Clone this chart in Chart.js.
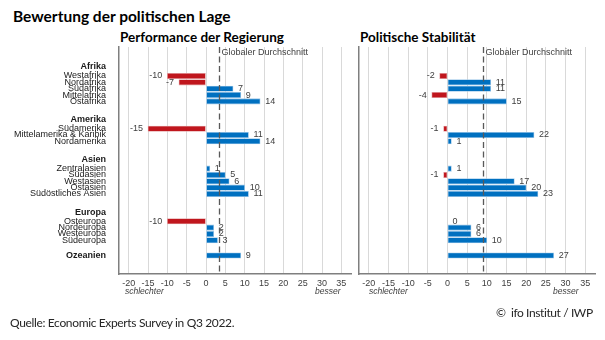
<!DOCTYPE html>
<html lang="de">
<head>
<meta charset="utf-8">
<title>Bewertung der politischen Lage</title>
<script src="https://cdn.jsdelivr.net/npm/chart.js@4.4.1/dist/chart.umd.min.js"></script>
<style>
  html, body { margin: 0; padding: 0; background: #fff; }
  body { width: 605px; height: 340px; position: relative; overflow: hidden; font-family: Lato, "Liberation Sans", sans-serif; color: #1a1a1a; }
  canvas { position: absolute; top: 0; }
  .txt { position: absolute; white-space: nowrap; line-height: 1; }
  #title { left: 13px; top: 9px; font-size: 15.5px; font-weight: 700; color: #000; }
  .sub { top: 31px; font-size: 13.5px; font-weight: 700; color: #000; }
  #source { left: 10px; top: 317px; font-size: 12px; letter-spacing: -0.35px; color: #262626; }
  #copy { left: 496px; top: 307px; font-size: 12px; letter-spacing: -0.4px; color: #262626; }
  .dir { top: 287px; font-size: 8.5px; font-style: italic; color: #404040; font-family: "Liberation Sans", sans-serif; }
</style>
</head>
<body>
<div id="title" class="txt">Bewertung der politischen Lage</div>
<div class="txt sub" style="left:120px">Performance der Regierung</div>
<div class="txt sub" style="left:360px">Politische Stabilität</div>
<canvas id="perf" width="355" height="340" style="left:0"></canvas>
<canvas id="stab" width="250" height="340" style="left:355px"></canvas>
<div class="txt dir" style="left:125px">schlechter</div>
<div class="txt dir" style="left:315px">besser</div>
<div class="txt dir" style="left:369px">schlechter</div>
<div class="txt dir" style="left:553px">besser</div>
<div id="source" class="txt">Quelle: Economic Experts Survey in Q3 2022.</div>
<div id="copy" class="txt">©&nbsp; ifo Institut / IWP</div>

<script>
// Regions and their sub-regions (Ozeanien has no sub-regions, its value sits on the region row)
const regions = ['Afrika', 'Amerika', 'Asien', 'Europa', 'Ozeanien'];
const subregions = [
  ['Westafrika', 'Nordafrika', 'Südafrika', 'Mittelafrika', 'Ostafrika'],
  ['Südamerika', 'Mittelamerika & Karibik', 'Nordamerika'],
  ['Zentralasien', 'Südasien', 'Westasien', 'Ostasien', 'Südöstliches Asien'],
  ['Osteuropa', 'Nordeuropa', 'Westeuropa', 'Südeuropa'],
  []
];

// Saldo values, one per row in the order above (last value = Ozeanien)
const performance = [-10, -7, 7, 9, 14, -15, 11, 14, 1, 5, 6, 10, 11, -10, 2, 2, 3, 9];
const stability   = [-2, 11, 11, -4, 15, -1, 22, 1, 1, -1, 17, 20, 23, 0, 6, 6, 10, 27];

// Global average per panel
const globalAverage = [3.4, 9.1];

// x-axis tick values
const xTickValues = [-20, -15, -10, -5, 0, 5, 10, 15, 20, 25, 30, 35];

// ---- row layout on a linear y scale ----
const HEADER_OFFSET = 1.45; // region label above its first sub-region
const GROUP_GAP = 4.3;      // distance between last item of a group and first item of the next
const SOLO_GAP = 2.4;       // distance before a region without sub-regions

const rowPos = [];          // y value of each bar row
const yTicks = [];          // {value, label, bold}
let cursor = 0;
regions.forEach((reg, g) => {
  const items = subregions[g];
  if (items.length) {
    if (g > 0) cursor += GROUP_GAP;
    yTicks.push({ value: cursor - HEADER_OFFSET, label: reg, bold: true });
    items.forEach((name, i) => {
      const v = cursor + i;
      rowPos.push(v);
      yTicks.push({ value: v, label: name, bold: false });
    });
    cursor += items.length - 1;
  } else {
    cursor += SOLO_GAP;
    rowPos.push(cursor);
    yTicks.push({ value: cursor, label: reg, bold: true });
  }
});

const RED = '#C0161D';
const BLUE = '#0070C0';
const LABEL_FONT = '"Liberation Sans", Arial, sans-serif';

// dashed average line + caption, and value labels at bar ends
const overlayPlugin = {
  id: 'overlay',
  afterDatasetsDraw(chart, args, opts) {
    const { ctx, chartArea, scales } = chart;
    ctx.save();
    // value labels
    const meta = chart.getDatasetMeta(0);
    const data = chart.data.datasets[0].data;
    ctx.font = '9px ' + LABEL_FONT;
    ctx.fillStyle = '#404040';
    ctx.textBaseline = 'middle';
    meta.data.forEach((bar, i) => {
      const v = data[i].x;
      if (v < 0) {
        ctx.textAlign = 'right';
        ctx.fillText(String(v), bar.x - 5, bar.y);
      } else {
        ctx.textAlign = 'left';
        ctx.fillText(String(v), bar.x + 5, bar.y);
      }
    });
    // dashed global average line
    const x = Math.round(scales.x.getPixelForValue(opts.average)) + 0.5;
    ctx.strokeStyle = '#595959';
    ctx.lineWidth = 1.3;
    ctx.setLineDash([6, 3.5]);
    ctx.beginPath();
    ctx.moveTo(x, chartArea.top);
    ctx.lineTo(x, chartArea.bottom);
    ctx.stroke();
    ctx.setLineDash([]);
    ctx.textAlign = 'left';
    ctx.textBaseline = 'top';
    ctx.font = '9px ' + LABEL_FONT;
    ctx.fillStyle = '#404040';
    ctx.fillText('Globaler Durchschnitt', x + 2, chartArea.top + 1);
    ctx.restore();
  }
};

function makeChart(canvasId, values, average, showLabels) {
  const points = values.map((v, i) => ({ x: v, y: rowPos[i] }));
  return new Chart(document.getElementById(canvasId), {
    type: 'bar',
    data: {
      datasets: [{
        data: points,
        backgroundColor: c => (c.raw && c.raw.x < 0 ? RED : BLUE),
        borderColor: c => (c.raw && c.raw.x < 0 ? '#e3a2a4' : '#9cc7e8'),
        borderWidth: 0.8,
        borderSkipped: false,
        barThickness: 5.4
      }]
    },
    options: {
      indexAxis: 'y',
      responsive: false,
      animation: false,
      devicePixelRatio: 1,
      layout: { padding: { top: 47, right: showLabels ? 4 : 10, left: 0, bottom: 0 } },
      plugins: {
        legend: { display: false },
        tooltip: { enabled: false },
        overlay: { average: average }
      },
      scales: {
        x: {
          type: 'linear',
          min: -22.5,
          max: 37.5,
          afterBuildTicks: s => { s.ticks = xTickValues.map(v => ({ value: v })); },
          afterFit: s => { s.height = 66; },
          grid: { color: '#d9d9d9', lineWidth: 1, drawTicks: false },
          border: { display: true, color: '#7f7f7f', width: 1.5 },
          ticks: {
            padding: 4,
            color: '#404040',
            font: { family: LABEL_FONT, size: 9 },
            maxRotation: 0
          }
        },
        y: {
          type: 'linear',
          reverse: true,
          min: -3.76,
          max: 30.4,
          afterBuildTicks: s => { s.ticks = yTicks.map(t => ({ value: t.value })); },
          afterFit: s => { s.width = showLabels ? 119 : 4; },
          grid: { display: false },
          border: { display: true, color: '#7f7f7f', width: 1.5 },
          ticks: {
            display: showLabels,
            autoSkip: false,
            padding: 5,
            color: '#1a1a1a',
            callback: (val, idx) => (yTicks[idx] ? yTicks[idx].label : ''),
            font: c => ({
              family: LABEL_FONT,
              size: 9,
              weight: yTicks[c.index] && yTicks[c.index].bold ? 'bold' : 'normal'
            })
          }
        }
      }
    },
    plugins: [overlayPlugin]
  });
}

makeChart('perf', performance, globalAverage[0], true);
makeChart('stab', stability, globalAverage[1], false);
</script>
</body>
</html>
